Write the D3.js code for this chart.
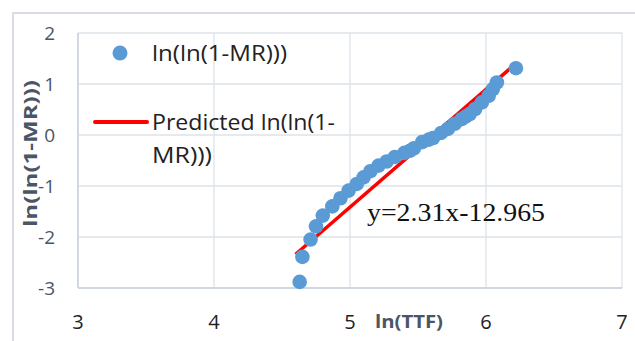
<!DOCTYPE html>
<html>
<head>
<meta charset="UTF-8">
<script src="https://d3js.org/d3.v7.min.js"></script>
<style>
  body { margin: 0; background: #fff; }
  text { font-family: "Open Sans", Lato, sans-serif; }
</style>
</head>
<body>
<div id="chart"></div>
<script>
// observed points: ln(TTF) and ln(ln(1-MR)))
const lnTTF = [4.63, 4.65, 4.71, 4.75, 4.80, 4.87, 4.93, 4.99, 5.05, 5.10,
  5.15, 5.21, 5.27, 5.33, 5.40, 5.44, 5.47, 5.53, 5.58, 5.61, 5.67, 5.72,
  5.77, 5.82, 5.85, 5.88, 5.92, 5.97, 6.02, 6.05, 6.08, 6.22];
const lnln = [-2.88, -2.39, -2.05, -1.79, -1.58, -1.40, -1.24, -1.09, -0.96, -0.83,
  -0.71, -0.60, -0.52, -0.43, -0.35, -0.31, -0.26, -0.14, -0.09, -0.06, 0.04, 0.12,
  0.22, 0.31, 0.36, 0.41, 0.51, 0.64, 0.77, 0.90, 1.03, 1.31];
// fitted line
const slope = 2.31, intercept = -12.965;
const fitX = [4.60, 6.20];
const xTicks = [3, 4, 5, 6, 7];
const yTicks = [-3, -2, -1, 0, 1, 2];

const W = 635, H = 341;
const svg = d3.select("#chart").append("svg").attr("width", W).attr("height", H);

// outer chart border
svg.append("rect").attr("x", 13).attr("y", 13).attr("width", 640).attr("height", 340)
  .attr("fill", "none").attr("stroke", "#d9dde3").attr("stroke-width", 2);

const x = d3.scaleLinear().domain([3, 7]).range([78, 622]);
const y = d3.scaleLinear().domain([-3, 2]).range([288, 33]);

const grid = "#dde3ea";
svg.append("g").selectAll("line").data(xTicks).join("line")
  .attr("x1", d => x(d)).attr("x2", d => x(d)).attr("y1", y(2)).attr("y2", y(-3))
  .attr("stroke", grid).attr("stroke-width", 1.3);
svg.append("g").selectAll("line").data(yTicks).join("line")
  .attr("y1", d => y(d)).attr("y2", d => y(d)).attr("x1", x(3)).attr("x2", x(7))
  .attr("stroke", grid).attr("stroke-width", 1.3);
// axis lines slightly darker
svg.append("line").attr("x1", x(3)).attr("x2", x(3)).attr("y1", y(2)).attr("y2", y(-3))
  .attr("stroke", "#c8d0da").attr("stroke-width", 1.5);
svg.append("line").attr("x1", x(3)).attr("x2", x(7)).attr("y1", y(-3)).attr("y2", y(-3))
  .attr("stroke", "#c8d0da").attr("stroke-width", 1.5);

const lab = "#4a5566";
svg.append("g").selectAll("text").data(xTicks).join("text")
  .attr("x", d => x(d)).attr("y", 329).attr("text-anchor", "middle")
  .attr("font-size", 20).attr("fill", "#222").text(d => d);
svg.append("g").selectAll("text").data(yTicks).join("text")
  .attr("x", 55).attr("y", d => y(d) + 7).attr("text-anchor", "end")
  .attr("font-size", 19).attr("fill", lab).text(d => d);

// axis titles
svg.append("text").attr("x", 375).attr("y", 328)
  .attr("font-size", 17).attr("font-weight", "bold").attr("fill", lab)
  .attr("textLength", 68).attr("lengthAdjust", "spacingAndGlyphs").text("ln(TTF)");
svg.append("text").attr("transform", "translate(37,227) rotate(-90)")
  .attr("font-size", 17).attr("font-weight", "bold").attr("fill", lab)
  .attr("textLength", 147).attr("lengthAdjust", "spacingAndGlyphs").text("ln(ln(1-MR)))");

// fitted line
svg.append("line")
  .attr("x1", x(fitX[0])).attr("y1", y(slope * fitX[0] + intercept))
  .attr("x2", x(fitX[1])).attr("y2", y(slope * fitX[1] + intercept))
  .attr("stroke", "#ff0000").attr("stroke-width", 3.5);

// points
svg.append("g").selectAll("circle").data(lnTTF).join("circle")
  .attr("cx", d => x(d)).attr("cy", (d, i) => y(lnln[i])).attr("r", 7.3)
  .attr("fill", "#5b9bd5");

// equation
svg.append("text").attr("x", 367).attr("y", 221)
  .style("font-family", "'Liberation Serif', 'Times New Roman', serif")
  .attr("font-size", 25).attr("fill", "#111")
  .attr("textLength", 178).attr("lengthAdjust", "spacingAndGlyphs").text("y=2.31x-12.965");

// legend
const lg = svg.append("g");
lg.append("circle").attr("cx", 120).attr("cy", 53).attr("r", 7.5).attr("fill", "#5b9bd5");
lg.append("text").attr("x", 152).attr("y", 61).attr("font-size", 21).attr("fill", "#222")
  .attr("textLength", 135).attr("lengthAdjust", "spacingAndGlyphs").text("ln(ln(1-MR)))");
lg.append("line").attr("x1", 95).attr("x2", 147).attr("y1", 122).attr("y2", 122)
  .attr("stroke", "#ff0000").attr("stroke-width", 4).attr("stroke-linecap", "round");
lg.append("text").attr("x", 152).attr("y", 130).attr("font-size", 21).attr("fill", "#222")
  .attr("textLength", 183).attr("lengthAdjust", "spacingAndGlyphs").text("Predicted ln(ln(1-");
lg.append("text").attr("x", 152).attr("y", 163).attr("font-size", 21).attr("fill", "#222")
  .attr("textLength", 60).attr("lengthAdjust", "spacingAndGlyphs").text("MR)))");
</script>
</body>
</html>
